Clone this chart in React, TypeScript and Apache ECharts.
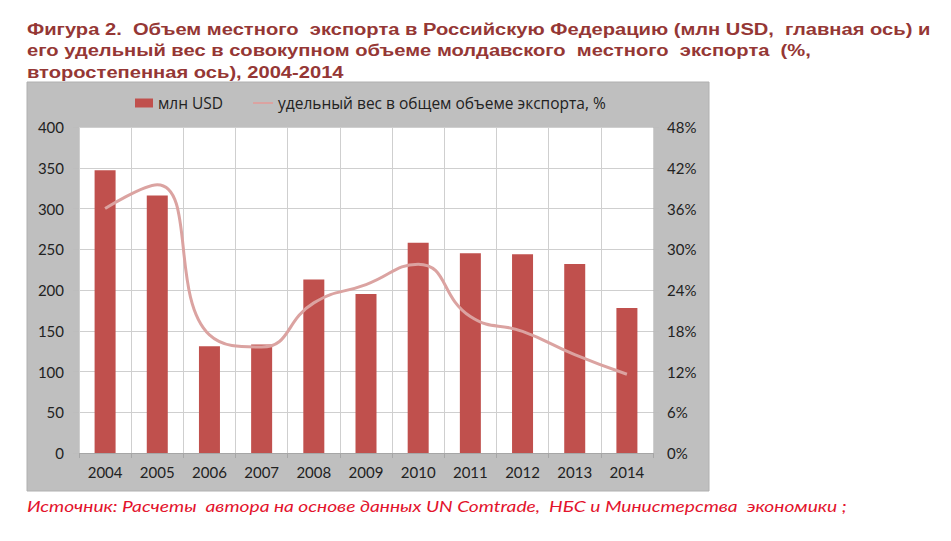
import React, { useEffect, useRef } from "react";
import * as echarts from "echarts";

const years = ["2004", "2005", "2006", "2007", "2008", "2009", "2010", "2011", "2012", "2013", "2014"];
const exportUsd = [347, 316, 131, 133, 213, 195, 258, 245, 244, 232, 178];
const sharePct = [36, 39.5, 17.4, 15.6, 22.1, 24.8, 27.8, 20.1, 17.9, 14.5, 11.6];

const barName = "млн USD";
const lineName = "удельный вес в общем объеме экспорта, %";

const titleLines = [
  "Фигура 2.  Объем местного  экспорта в Российскую Федерацию (млн USD,  главная ось) и",
  "его удельный вес в совокупном объеме молдавского  местного  экспорта  (%,",
  "второстепенная ось), 2004-2014",
];
const sourceText =
  "Источник: Расчеты  автора на основе данных UN Comtrade,  НБС и Министерства  экономики ;";

const FONT = "Lato, 'Open Sans', sans-serif";
const LINE_COLOR = "#dba3a1";

export default function App() {
  const ref = useRef<HTMLDivElement>(null);

  useEffect(() => {
    document.body.style.margin = "0";
    const chart = echarts.init(ref.current!, undefined, { renderer: "svg" });

    const titleGraphics = titleLines.map((t, i) => ({
      type: "text",
      x: 27,
      y: 29 + i * 21.5,
      scaleX: 1.185,
      style: {
        text: t,
        fill: "#953735",
        font: "bold 17px 'Liberation Sans', Arial, sans-serif",
        verticalAlign: "middle",
      },
    }));

    const legendText = { fontFamily: "'Open Sans', Lato, sans-serif", fontSize: 15.5, color: "#222" };

    chart.setOption({
      animation: false,
      backgroundColor: "#ffffff",
      graphic: [
        {
          type: "rect",
          shape: { x: 27, y: 82, width: 682, height: 409 },
          style: { fill: "#bfbfbf", stroke: "#b0b0b0", lineWidth: 1 },
          z: -10,
        },
        ...titleGraphics,
        {
          type: "text",
          x: 27,
          y: 506,
          scaleX: 1.2,
          style: {
            text: sourceText,
            fill: "#e3132c",
            font: "italic 16px Lato, 'Open Sans', sans-serif",
            verticalAlign: "middle",
          },
        },
      ],
      legend: [
        {
          left: 130,
          top: 90,
          itemWidth: 18,
          itemHeight: 9,
          textStyle: legendText,
          data: [{ name: barName, icon: "rect" }],
        },
        {
          left: 248,
          top: 90,
          itemWidth: 20,
          itemHeight: 2,
          textStyle: legendText,
          data: [{ name: lineName, icon: "rect", itemStyle: { color: LINE_COLOR } }],
        },
      ],
      grid: {
        left: 79,
        top: 127,
        width: 574,
        height: 326,
        show: true,
        backgroundColor: "#ffffff",
        borderWidth: 0,
      },
      xAxis: {
        type: "category",
        data: years,
        axisLine: { lineStyle: { color: "#a6a6a6", width: 1 } },
        axisTick: { show: true, length: 5, lineStyle: { color: "#a6a6a6" } },
        axisLabel: { color: "#222", fontFamily: FONT, fontSize: 15, margin: 11 },
        splitLine: { show: true, lineStyle: { color: "#cfcfcf", width: 1 } },
      },
      yAxis: [
        {
          type: "value",
          min: 0,
          max: 400,
          interval: 50,
          axisLine: { show: false },
          axisTick: { show: true, length: 6, lineStyle: { color: "#bdbdbd" } },
          axisLabel: { color: "#222", fontFamily: FONT, fontSize: 15, margin: 15 },
          splitLine: { show: true, lineStyle: { color: "#cfcfcf", width: 1 } },
        },
        {
          type: "value",
          min: 0,
          max: 48,
          interval: 6,
          position: "right",
          axisLine: { show: false },
          axisTick: { show: true, length: 6, lineStyle: { color: "#bdbdbd" } },
          axisLabel: {
            color: "#222",
            fontFamily: FONT,
            fontSize: 15,
            margin: 14,
            formatter: (v: number) => `${v}%`,
          },
          splitLine: { show: false },
        },
      ],
      series: [
        {
          name: barName,
          type: "bar",
          data: exportUsd,
          barWidth: 21,
          itemStyle: { color: "#c0504d" },
          yAxisIndex: 0,
        },
        {
          name: lineName,
          type: "line",
          data: sharePct,
          yAxisIndex: 1,
          smooth: 0.5,
          symbol: "none",
          lineStyle: { color: LINE_COLOR, width: 3 },
          itemStyle: { color: LINE_COLOR },
        },
      ],
    });

    return () => chart.dispose();
  }, []);

  return (
    <div
      ref={ref}
      style={{ position: "absolute", left: 0, top: 0, width: 951, height: 541 }}
    />
  );
}
